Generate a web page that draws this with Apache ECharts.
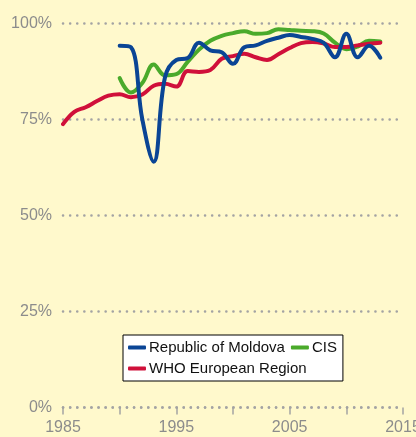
<!DOCTYPE html>
<html>
<head>
<meta charset="utf-8">
<script src="https://cdn.jsdelivr.net/npm/echarts@6/dist/echarts.min.js"></script>
<style>
  html, body { margin: 0; padding: 0; background: #fff9cc; }
  #chart { width: 416px; height: 437px; }
</style>
</head>
<body>
<div id="chart"></div>
<script>
// values in %
const moldovaYears = [1990, 1991, 1992, 1993, 1994, 1995, 1996, 1997, 1998, 1999, 2000, 2001, 2002,
  2003, 2004, 2005, 2006, 2007, 2008, 2009, 2010, 2011, 2012, 2013];
const moldova = [94.2, 93.8, 75, 64, 86, 90.5, 91, 95, 93, 92.5, 89.5, 93.8, 94.3,
  95.5, 96.3, 97, 96.5, 96, 95, 91.2, 97.3, 91.2, 94.2, 91.1];

const cisYears = moldovaYears;
const cis = [85.8, 82, 84.5, 89.3, 86.5, 86.8, 90, 93.2, 95.5, 96.8, 97.5, 98, 97.3,
  97.5, 98.5, 98.3, 98.1, 98, 97.4, 95, 93.3, 94, 95.5, 95.3];

const whoYears = [1985, 1986, 1987, 1988, 1989, 1990, 1991, 1992, 1993, 1994, 1995, 1996, 1997,
  1998, 1999, 2000, 2001, 2002, 2003, 2004, 2005, 2006, 2007, 2008, 2009, 2010, 2011, 2012, 2013];
const who = [73.8, 77, 78.2, 79.8, 81.2, 81.6, 80.8, 81.5, 83.8, 84.3, 83.6, 87.6, 87.4,
  87.9, 90.8, 91.5, 92.1, 91.2, 90.5, 92, 93.6, 94.9, 95.2, 94.8, 93.9, 93.9, 94.3, 94.7, 95];

const yTicks = [0, 25, 50, 75, 100];
const xLabelYears = [1985, 1995, 2005, 2015];

const FONT = '"Liberation Sans Narrow", "Liberation Sans", sans-serif';
const GREY = '#8c8c8c';
const dotted = { color: '#a3a3a3', width: 2.5, type: [0.1, 7], cap: 'round' };

function pairs(xs, ys) {
  return xs.map((x, i) => [x, ys[i]]);
}

const chart = echarts.init(document.getElementById('chart'));

chart.setOption({
  animation: false,
  backgroundColor: '#fff9cc',
  grid: { left: 63, right: 13, top: 23.5, bottom: 29.5, outerBoundsMode: 'none', containLabel: false },
  legend: {
    data: ['Republic of Moldova', 'CIS', 'WHO European Region'],
    left: 123,
    top: 335,
    width: 230,
    padding: [5, 6, 5, 5],
    itemGap: 6,
    itemWidth: 18,
    itemHeight: 4,
    icon: 'roundRect',
    backgroundColor: '#ffffff',
    borderColor: '#000000',
    borderWidth: 1,
    borderRadius: 0,
    textStyle: { fontFamily: FONT, fontSize: 15, lineHeight: 15, color: '#111', padding: [0, 0, 0, -2] }
  },
  xAxis: {
    type: 'value',
    min: 1985,
    max: 2015,
    interval: 5,
    axisLine: { show: true, lineStyle: dotted },
    axisTick: { show: true, length: 7, lineStyle: { color: '#a3a3a3', width: 1.5, type: 'solid' } },
    splitLine: { show: false },
    axisLabel: {
      margin: 12,
      fontFamily: FONT,
      fontSize: 16,
      color: GREY,
      showMaxLabel: true,
      formatter: v => (xLabelYears.includes(v) ? String(v) : '')
    }
  },
  yAxis: {
    type: 'value',
    min: 0,
    max: 100,
    interval: 25,
    axisLine: { show: false },
    axisTick: { show: false },
    splitLine: { show: true, lineStyle: dotted },
    axisLabel: {
      margin: 11,
      fontFamily: FONT,
      fontSize: 16,
      color: GREY,
      formatter: v => (yTicks.includes(v) ? v + '%' : '')
    }
  },
  series: [
    {
      name: 'WHO European Region',
      type: 'line',
      data: pairs(whoYears, who),
      smooth: 0.4,
      showSymbol: false,
      lineStyle: { width: 4, color: '#d0103a', cap: 'round' },
      itemStyle: { color: '#d0103a' }
    },
    {
      name: 'CIS',
      type: 'line',
      data: pairs(cisYears, cis),
      smooth: 0.4,
      showSymbol: false,
      z: 1,
      lineStyle: { width: 4, color: '#4aaa2b', cap: 'round' },
      itemStyle: { color: '#4aaa2b' }
    },
    {
      name: 'Republic of Moldova',
      type: 'line',
      data: pairs(moldovaYears, moldova),
      smooth: 0.4,
      showSymbol: false,
      z: 3,
      lineStyle: { width: 4, color: '#0a4595', cap: 'round' },
      itemStyle: { color: '#0a4595' }
    }
  ]
});
</script>
</body>
</html>
